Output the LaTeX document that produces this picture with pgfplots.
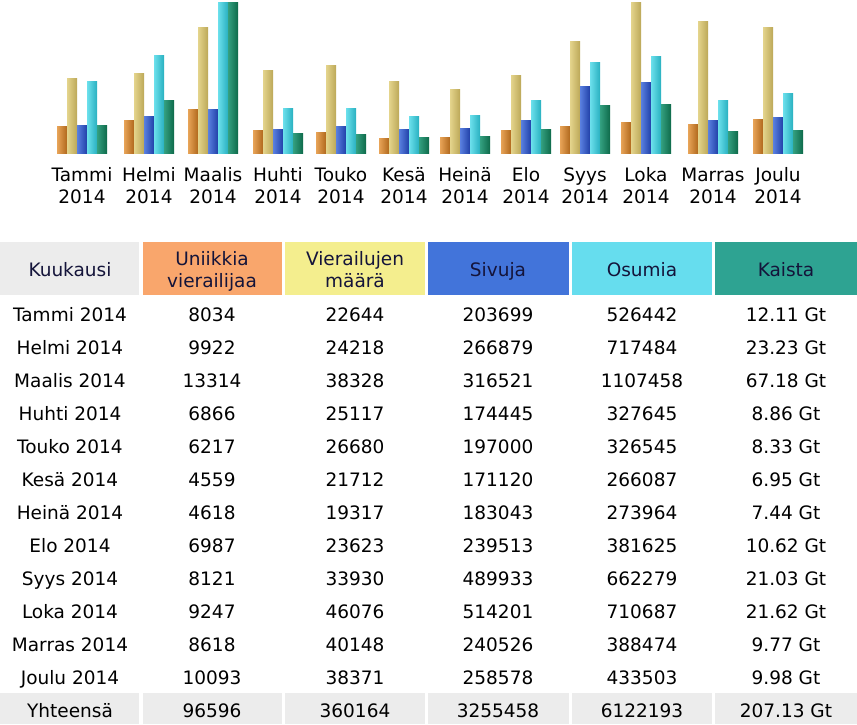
\documentclass[border=0pt]{standalone}
\usepackage{pgfplots}
\pgfplotsset{compat=1.18}
\usepackage{pgfplotstable}
\usepackage{fontspec}
\setmainfont{DejaVu Sans}

\definecolor{hdrgray}{HTML}{ECECEC}
\definecolor{hdrorange}{HTML}{F9A66C}
\definecolor{hdryellow}{HTML}{F4EE8E}
\definecolor{hdrblue}{HTML}{4274DA}
\definecolor{hdrcyan}{HTML}{66DDEE}
\definecolor{hdrteal}{HTML}{2EA392}
\definecolor{hdrtext}{HTML}{14143A}

\definecolor{orL}{HTML}{E8A458}\definecolor{orM}{HTML}{F8CC8C}\definecolor{orR}{HTML}{B0681C}
\definecolor{yeL}{HTML}{E4D48C}\definecolor{yeM}{HTML}{F6ECB0}\definecolor{yeR}{HTML}{BCA858}
\definecolor{blL}{HTML}{5A80E0}\definecolor{blM}{HTML}{8CAAF4}\definecolor{blR}{HTML}{2040A8}
\definecolor{cyL}{HTML}{6CE0EC}\definecolor{cyM}{HTML}{B0FAFE}\definecolor{cyR}{HTML}{28B0C0}
\definecolor{teL}{HTML}{34A080}\definecolor{teM}{HTML}{48B090}\definecolor{teR}{HTML}{0E6A4A}

\pgfplotstableread{
x uv visits pages hits bw
82 8034 22644 203699 526442 12.11
149 9922 24218 266879 717484 23.23
213 13314 38328 316521 1107458 67.18
278 6866 25117 174445 327645 8.86
341 6217 26680 197000 326545 8.33
404 4559 21712 171120 266087 6.95
465 4618 19317 183043 273964 7.44
526 6987 23623 239513 381625 10.62
585 8121 33930 489933 662279 21.03
646 9247 46076 514201 710687 21.62
713 8618 40148 240526 388474 9.77
778 10093 38371 258578 433503 9.98
}\monthdata

\newcommand{\tf}{\fontsize{18.5}{22}\selectfont}
\newcommand{\ts}{\vphantom{Tl}}

\begin{document}
\begin{tikzpicture}
\fill[white] (0pt,0pt) rectangle (857pt,-724pt);
\begin{axis}[
  at={(0pt,-153pt)}, anchor=south west,
  scale only axis, width=857pt, height=151pt,
  xmin=0, xmax=857, ymin=0, ymax=1,
  clip=false,
  ybar=0pt, bar width=10pt,
  axis line style={draw=none},
  major tick length=0pt,
  ytick=\empty,
  xtick={82,149,213,278,341,404,465,526,585,646,713,778},
  xticklabels={{\ts Tammi\\2014},{\ts Helmi\\2014},{\ts Maalis\\2014},{\ts Huhti\\2014},{\ts Touko\\2014},{\ts Kesä\\2014},{\ts Heinä\\2014},{\ts Elo\\2014},{\ts Syys\\2014},{\ts Loka\\2014},{\ts Marras\\2014},{\ts Joulu\\2014}},
  xticklabel style={align=center, font=\tf, inner sep=0pt, anchor=north, yshift=-14.5pt},
]
\pgfplotsinvokeforeach{81:83,148:150,212:214,277:279,340:342,403:405,464:466,525:527,584:586,645:647,712:714,777:779}{
\addplot[draw=none, bar shift=-20pt, restrict x to domain=#1, left color=orL, middle color=orM, right color=orR] table[x=x, y expr=\thisrow{uv}/46076] {\monthdata};
\addplot[draw=none, bar shift=-10pt, restrict x to domain=#1, left color=yeL, middle color=yeM, right color=yeR] table[x=x, y expr=\thisrow{visits}/46076] {\monthdata};
\addplot[draw=none, bar shift=0pt, restrict x to domain=#1, left color=blL, middle color=blM, right color=blR] table[x=x, y expr=\thisrow{pages}/1107458] {\monthdata};
\addplot[draw=none, bar shift=10pt, restrict x to domain=#1, left color=cyL, middle color=cyM, right color=cyR] table[x=x, y expr=\thisrow{hits}/1107458] {\monthdata};
\addplot[draw=none, bar shift=20pt, restrict x to domain=#1, left color=teL, middle color=teM, right color=teR] table[x=x, y expr=\thisrow{bw}/67.18] {\monthdata};
}
\end{axis}

\begin{scope}[x=1pt, y=-1pt]
  % header
  \fill[hdrgray]   (0,242) rectangle (139,295);
  \fill[hdrorange] (143,242) rectangle (282,295);
  \fill[hdryellow] (285,242) rectangle (425,295);
  \fill[hdrblue]   (428,242) rectangle (569,295);
  \fill[hdrcyan]   (572,242) rectangle (712,295);
  \fill[hdrteal]   (715,242) rectangle (857,295);
  \begin{scope}[every node/.style={font=\tf, inner sep=0pt, anchor=base, text=hdrtext}]
    \node at (70,276) {Kuukausi};
    \node at (212,265) {Uniikkia};
    \node at (212,287) {vierailijaa};
    \node at (355,265) {Vierailujen};
    \node at (355,287) {määrä};
    \node at (498,276) {Sivuja};
    \node at (642,276) {Osumia};
    \node at (786,276) {Kaista};
  \end{scope}
  % totals background
  \fill[hdrgray] (0,693) rectangle (139,724);
  \fill[hdrgray] (143,693) rectangle (282,724);
  \fill[hdrgray] (285,693) rectangle (425,724);
  \fill[hdrgray] (428,693) rectangle (569,724);
  \fill[hdrgray] (572,693) rectangle (712,724);
  \fill[hdrgray] (715,693) rectangle (857,724);
  \begin{scope}[every node/.style={font=\tf, inner sep=0pt, anchor=base, text=black}]
    \foreach \n/\a/\b/\c/\d/\e [count=\i from 0] in {
      Tammi 2014/8034/22644/203699/526442/12.11 Gt,
      Helmi 2014/9922/24218/266879/717484/23.23 Gt,
      Maalis 2014/13314/38328/316521/1107458/67.18 Gt,
      Huhti 2014/6866/25117/174445/327645/8.86 Gt,
      Touko 2014/6217/26680/197000/326545/8.33 Gt,
      Kesä 2014/4559/21712/171120/266087/6.95 Gt,
      Heinä 2014/4618/19317/183043/273964/7.44 Gt,
      Elo 2014/6987/23623/239513/381625/10.62 Gt,
      Syys 2014/8121/33930/489933/662279/21.03 Gt,
      Loka 2014/9247/46076/514201/710687/21.62 Gt,
      Marras 2014/8618/40148/240526/388474/9.77 Gt,
      Joulu 2014/10093/38371/258578/433503/9.98 Gt,
      Yhteensä/96596/360164/3255458/6122193/207.13 Gt}{
      \pgfmathsetmacro{\yy}{321+33*\i}
      \node at (70,\yy) {\n};
      \node at (212,\yy) {\a};
      \node at (355,\yy) {\b};
      \node at (498,\yy) {\c};
      \node at (642,\yy) {\d};
      \node at (786,\yy) {\e};
    }
  \end{scope}
\end{scope}
\end{tikzpicture}
\end{document}
